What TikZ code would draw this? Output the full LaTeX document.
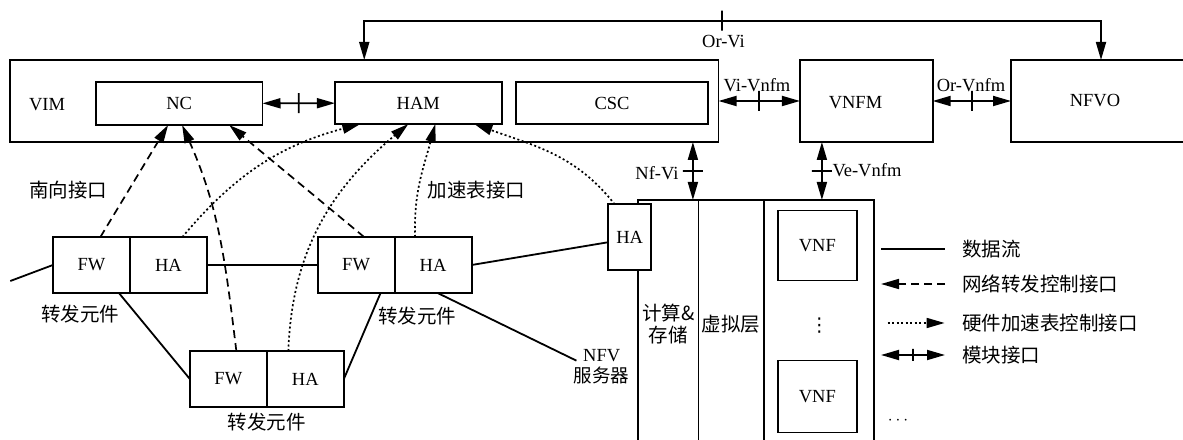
\documentclass[tikz,border=0pt]{standalone}
\usepackage{fontspec}
\setmainfont{Liberation Serif}
\newfontfamily\cjk{Noto Sans CJK SC}
\newfontfamily\symfont{DejaVu Sans}
\usetikzlibrary{arrows.meta, positioning}

\begin{document}
\begin{tikzpicture}[
  x=1pt, y=1pt,
  font=\fontsize{18.5}{21}\selectfont,
  cn/.style={font=\cjk\fontsize{19.5}{22}\selectfont},
  box/.style={draw, line width=1.8pt, outer sep=0pt, inner sep=0pt},
  fe/.style={box, minimum width=77pt, minimum height=56pt},
  col/.style={box, minimum height=248pt, anchor=north},
  flow/.style={line width=1.8pt},
  arrow/.style={line width=1.8pt, {Triangle[length=18pt,width=10pt]}-{Triangle[length=18pt,width=10pt]}},
  ctrl/.style={line width=1.7pt, dash pattern=on 8pt off 5pt, -{Triangle[length=18pt,width=10pt]}},
  accel/.style={line width=1.7pt, dash pattern=on 2pt off 2.5pt, -{Triangle[length=18pt,width=10pt]}},
  tickmark/.style={draw, line width=1.8pt, sloped, minimum width=0pt, minimum height=20pt, inner sep=0pt, outer sep=0pt}
]
\useasboundingbox (0,0) rectangle (1183,439);
\clip (0,0) rectangle (1183,439);

% Management nodes
\node[box, minimum width=708.5pt, minimum height=82pt] (vim) at (364.25,338) {};
\node (vimlbl) at (47,334) {VIM};
\node[box, minimum width=166.8pt, minimum height=43pt] (nc) at (179.1,335.5) {NC};
\node[box, minimum width=166.7pt, minimum height=42pt] (ham) at (418.3,336) {HAM};
\node[box, minimum width=192pt, minimum height=42pt] (csc) at (612,336) {CSC};
\node[box, minimum width=132.7pt, minimum height=82pt] (vnfm) at (866.3,338) {};
\node (vnfmlbl) at (855.5,336) {VNFM};
\node[box, minimum width=180pt, minimum height=82pt] (nfvo) at (1101,338) {};
\node (nfvolbl) at (1095,338) {NFVO};

% NFV server
\node[col, cn, minimum width=60.5pt, align=center] (cmp) at (668.25,239) {计算\&\\存储};
\node[col, cn, minimum width=65.3pt] (virt) at (731.15,239) {虚拟层};
\node[col, minimum width=110.2pt] (vnfs) at (818.9,239) {};
\node[box, minimum width=79.2pt, minimum height=70pt] (vnf1) at (817.3,193.5) {VNF};
\node[box, minimum width=79.2pt, minimum height=72pt] (vnf2) at (817.3,42.5) {VNF};
\node[font=\symfont\fontsize{19}{21}\selectfont] (vd) at (819.3,113) {⋮};
\node (hd) at (898,18.3) {$\cdots$};
\node[box, fill=white, minimum width=42.7pt, minimum height=65.7pt] (han) at (629.7,201.8) {HA};
\node[align=center] (nfvsrv) at (601.7,72.5) {NFV\\{\cjk 服务器}};

% Forwarding elements
\node[fe] (fw1) at (91.4,174) {FW};
\node[fe, right=0pt of fw1] (ha1) {HA};
\node[fe] (fw2) at (356.1,174) {FW};
\node[fe, right=0pt of fw2] (ha2) {HA};
\node[fe] (fw3) at (228.35,60) {FW};
\node[fe, right=0pt of fw3] (ha3) {HA};
\node[cn] (fe1lbl) at (80,125) {转发元件};
\node[cn] (fe2lbl) at (417,123) {转发元件};
\node[cn] (fe3lbl) at (266.7,17) {转发元件};
\node[cn] (sbi) at (68,249) {南向接口};
\node[cn, anchor=west] (acci) at (424,249) {加速表接口};

% Interface labels
\coordinate (orvi) at (722,418.3);
\node (orvilbl) at (723.5,397) {Or-Vi};
\node (vivnfm) at (757,354) {Vi-Vnfm};
\node (orvnfm) at (971,354) {Or-Vnfm};
\node[anchor=east] (nfvi) at (682,266) {Nf-Vi};
\node[anchor=west] (vevnfm) at (829,269) {Ve-Vnfm};

% Legend
\node[cn, anchor=west] (lg1) at (958.6,190) {数据流};
\node[cn, anchor=west] (lg2) at (958.6,155) {网络转发控制接口};
\node[cn, anchor=west] (lg3) at (958.6,116) {硬件加速表控制接口};
\node[cn, anchor=west] (lg4) at (958.6,84) {模块接口};

% Pointers
\draw[arrow] (vim.north) |- (orvi) -| (nfvo.north);
\node[tickmark] at (orvi) {};
\draw[arrow] (nc) -- (ham) node[tickmark, midway] {};
\draw[arrow] (vim) -- (vnfm) node[tickmark, midway] {};
\draw[arrow] (vnfm) -- (nfvo) node[tickmark, midway] {};
\coordinate (nfvitop) at ([xshift=-5.6pt]cmp.north east);
\draw[arrow] (nfvitop |- vim.south) -- (nfvitop) node[tickmark, midway] {};
\coordinate (vetop) at ([xshift=3pt]vnfs.north);
\draw[arrow] (vetop |- vnfm.south) -- (vetop) node[tickmark, midway] {};

% Data flow
\coordinate (lin) at (10.3,158);
\draw[flow] (lin) -- (fw1.west);
\draw[flow] (ha1) -- (fw2);
\draw[flow] (ha2.east) -- ([yshift=-5pt]han.west);
\draw[flow] ([xshift=-11pt]fw1.south east) -- (fw3.west);
\draw[flow] ([xshift=-14pt]fw2.south east) -- (ha3.east);
\draw[flow] ([xshift=43pt]ha2.south west) -- ([xshift=6pt,yshift=-15pt]nfvsrv.north west);

% Control interfaces
\draw[ctrl] ([xshift=9pt]fw1.north) -- ([xshift=-11pt]nc.south);
\draw[ctrl] ([xshift=8pt]fw3.north) to[out=97, in=-66] ([xshift=3pt]nc.south);
\draw[ctrl] ([xshift=8pt]fw2.north) -- ([xshift=50pt]nc.south);
\draw[accel] ([xshift=14pt]ha1.north) to[out=50, in=-165] ([xshift=-58pt]ham.south);
\draw[accel] ([xshift=-17pt]ha3.north) to[out=88, in=-140] ([xshift=-10pt]ham.south);
\draw[accel] ([xshift=-18pt]ha2.north) to[out=92, in=-105] ([xshift=17pt]ham.south);
\draw[accel] ([xshift=-15pt]han.north) to[out=128, in=-20] ([xshift=56pt]ham.south);

% Legend lines
\draw[flow] ([xshift=-77.6pt]lg1.west) -- ([xshift=-13.6pt]lg1.west);
\draw[ctrl] ([xshift=-13.6pt]lg2.west) -- ([xshift=-77.6pt]lg2.west);
\draw[accel] ([xshift=-71pt]lg3.west) -- ([xshift=-14pt]lg3.west);
\draw[arrow] ([xshift=-77.6pt]lg4.west) -- ([xshift=-13.6pt]lg4.west) node[tickmark, midway, minimum height=12pt] {};

\end{tikzpicture}
\end{document}
